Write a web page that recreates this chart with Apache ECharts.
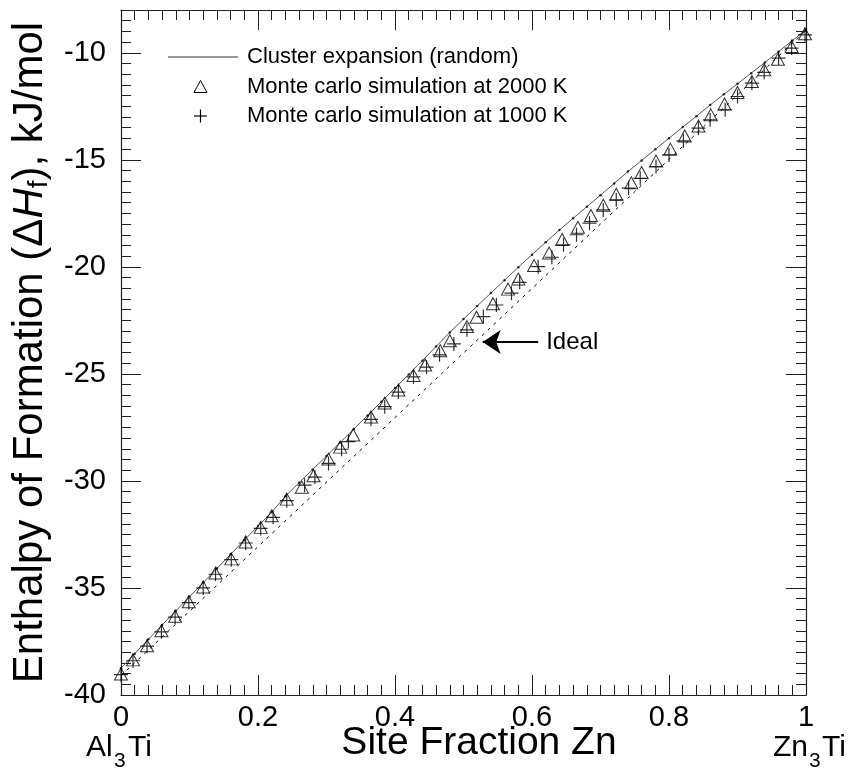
<!DOCTYPE html>
<html>
<head>
<meta charset="utf-8">
<title>Enthalpy of Formation</title>
<script src="https://cdn.jsdelivr.net/npm/echarts@6/dist/echarts.min.js"></script>
<style>
  html, body { margin: 0; padding: 0; background: #fff; }
  #chart { width: 855px; height: 773px; }
</style>
</head>
<body>
<div id="chart"></div>
<script>
// 数据：值
const ceX = [0, 0.02, 0.04, 0.06, 0.08, 0.10, 0.12, 0.14, 0.16, 0.18,
             0.20, 0.22, 0.24, 0.26, 0.28, 0.30, 0.32, 0.34, 0.36, 0.38,
             0.40, 0.42, 0.44, 0.46, 0.48, 0.50, 0.52, 0.54, 0.56, 0.58,
             0.60, 0.62, 0.64, 0.66, 0.68, 0.70, 0.72, 0.74, 0.76, 0.78,
             0.80, 0.82, 0.84, 0.86, 0.88, 0.90, 0.92, 0.94, 0.96, 0.98, 1.00];
const ceY = [-38.75, -38.07, -37.40, -36.73, -36.07, -35.41, -34.75, -34.09, -33.43, -32.77,
             -32.11, -31.46, -30.72, -30.08, -29.46, -28.84, -28.20, -27.57, -26.94, -26.30,
             -25.66, -25.03, -24.38, -23.72, -23.06, -22.44, -21.83, -21.22, -20.62, -20.02,
             -19.43, -18.85, -18.28, -17.73, -17.19, -16.65, -16.10, -15.55, -15.03, -14.51,
             -13.99, -13.47, -12.96, -12.44, -11.94, -11.45, -10.95, -10.45, -9.94, -9.43, -8.92];

// Monte carlo 2000 K (三角形)
const mc2000X = [0, 0.0175, 0.038, 0.059, 0.079, 0.099, 0.12, 0.138, 0.161, 0.182, 0.204, 0.22, 0.242,
                 0.264, 0.281, 0.303, 0.320, 0.339, 0.365, 0.385, 0.405, 0.427, 0.444, 0.466, 0.480,
                 0.505, 0.519, 0.543, 0.565, 0.580, 0.603, 0.625, 0.644, 0.667, 0.686, 0.704, 0.723, 0.745,
                 0.760, 0.781, 0.802, 0.823, 0.843, 0.861, 0.881, 0.900, 0.921, 0.939, 0.959, 0.979, 0.9985];
const mc2000Y = [-39.02, -38.36, -37.70, -37.00, -36.32, -35.64, -34.95, -34.30, -33.64, -32.85, -32.17, -31.63, -30.85,
                 -30.29, -29.76, -28.98, -28.42, -27.85, -27.01, -26.36, -25.75, -25.07, -24.58, -23.92, -23.45,
                 -22.79, -22.35, -21.72, -21.04, -20.57, -19.94, -19.35, -18.72, -18.15, -17.60, -17.12, -16.61, -16.07,
                 -15.59, -15.06, -14.50, -13.89, -13.42, -12.90, -12.39, -11.85, -11.34, -10.79, -10.30, -9.71, -9.11];

// Monte carlo 1000 K (十字)
const mc1000X = [0, 0.0175, 0.038, 0.059, 0.079, 0.099, 0.12, 0.138, 0.161, 0.182, 0.204, 0.222, 0.242,
                 0.268, 0.283, 0.303, 0.322, 0.332, 0.365, 0.385, 0.405, 0.427, 0.446, 0.465, 0.486,
                 0.505, 0.529, 0.548, 0.570, 0.582, 0.609, 0.629, 0.646, 0.665, 0.684, 0.704, 0.723, 0.741,
                 0.758, 0.781, 0.800, 0.821, 0.843, 0.860, 0.882, 0.900, 0.921, 0.939, 0.960, 0.979, 0.9985];
const mc1000Y = [-39.05, -38.40, -37.72, -37.05, -36.36, -35.68, -35.00, -34.36, -33.68, -32.90, -32.22, -31.70, -30.92,
                 -30.20, -29.82, -29.18, -28.52, -28.16, -27.12, -26.53, -25.85, -25.14, -24.68, -24.11, -23.60,
                 -22.94, -22.32, -21.78, -21.23, -20.72, -19.99, -19.55, -18.97, -18.50, -17.96, -17.34, -16.87, -16.32,
                 -15.86, -15.31, -14.77, -14.11, -13.52, -13.13, -12.66, -12.04, -11.42, -10.91, -10.25, -9.78, -9.16];

// 理想混合直线
const idealX = [0, 1];
const idealY = [-39.1, -8.95];

const xTicks = [0, 0.2, 0.4, 0.6, 0.8, 1];
const yTicks = [-40, -35, -30, -25, -20, -15, -10];

const legendNames = ['Cluster expansion (random)', 'Monte carlo simulation at 2000 K', 'Monte carlo simulation at 1000 K'];

const zip = (xs, ys) => xs.map((x, i) => [x, ys[i]]);

const FONT = 'Liberation Sans, Arial, Helvetica, sans-serif';
const INK = '#222';

const chartDom = document.getElementById('chart');
const myChart = echarts.init(chartDom, null, { renderer: 'canvas' });

const majorTick = { show: true, inside: true, length: 20, lineStyle: { color: INK, width: 1 } };
const minorTick = { show: true, inside: true, length: 10, lineStyle: { color: INK, width: 1 } };
const line = { show: true, lineStyle: { color: INK, width: 1.2 } };

// 图例：手工画（线、三角、十字 + 文字）
const legendRows = [57, 86.5, 116];
const legendText = (name, y) => ({
  type: 'text', x: 247, y: y,
  style: { text: name, font: '22px ' + FONT, fill: '#000', verticalAlign: 'middle', align: 'left' }
});
const legendGraphic = [
  { type: 'line', shape: { x1: 168, y1: legendRows[0], x2: 238, y2: legendRows[0] }, style: { stroke: '#333', lineWidth: 1 } },
  { type: 'polygon', shape: { points: [[200.5, legendRows[1] - 6], [194, legendRows[1] + 6], [207, legendRows[1] + 6]] },
    style: { fill: 'none', stroke: '#000', lineWidth: 1 } },
  { type: 'line', shape: { x1: 194, y1: legendRows[2], x2: 207, y2: legendRows[2] }, style: { stroke: '#000', lineWidth: 1.2 } },
  { type: 'line', shape: { x1: 200.5, y1: legendRows[2] - 6.5, x2: 200.5, y2: legendRows[2] + 6.5 }, style: { stroke: '#000', lineWidth: 1.2 } },
  legendText(legendNames[0], legendRows[0]),
  legendText(legendNames[1], legendRows[1]),
  legendText(legendNames[2], legendRows[2])
];

// 坐标轴下方的文字
const bottomText = [
  { type: 'text', x: 479, y: 743,
    style: { text: 'Site Fraction Zn', font: '39px ' + FONT, fill: '#000', align: 'center', verticalAlign: 'middle' } },
  { type: 'text', left: 86, top: 733, style: { text: 'Al', font: '30px ' + FONT, fill: '#000' } },
  { type: 'text', left: 114, top: 751, style: { text: '3', font: '21px ' + FONT, fill: '#000' } },
  { type: 'text', left: 128, top: 733, style: { text: 'Ti', font: '30px ' + FONT, fill: '#000' } },
  { type: 'text', left: 773, top: 733, style: { text: 'Zn', font: '30px ' + FONT, fill: '#000' } },
  { type: 'text', left: 809, top: 751, style: { text: '3', font: '21px ' + FONT, fill: '#000' } },
  { type: 'text', left: 822, top: 733, style: { text: 'Ti', font: '30px ' + FONT, fill: '#000' } }
];

const option = {
  animation: false,
  textStyle: { fontFamily: FONT },
  grid: { left: 121, right: 49, top: 10, bottom: 78, outerBoundsMode: 'none', containLabel: false },
  xAxis: [
    {
      type: 'value', min: 0, max: 1, interval: 0.2, position: 'bottom',
      axisLine: line, axisTick: majorTick,
      minorTick: { show: true, splitNumber: 10, length: 10, lineStyle: { color: INK } },
      splitLine: { show: false },
      axisLabel: {
        fontSize: 29, color: '#000', margin: 8, fontFamily: FONT,
        formatter: v => xTicks.includes(v) ? String(v) : ''
      }
    },
    {
      type: 'value', min: 0, max: 1, interval: 0.2, position: 'top',
      axisLine: line, axisTick: majorTick,
      minorTick: { show: true, splitNumber: 10, length: 10, lineStyle: { color: INK } },
      splitLine: { show: false }, axisLabel: { show: false }
    }
  ],
  yAxis: [
    {
      type: 'value', min: -40, max: -8, interval: 5, position: 'left',
      axisLine: line, axisTick: majorTick, splitLine: { show: false },
      axisLabel: {
        fontSize: 29, color: '#000', margin: 15, fontFamily: FONT, showMaxLabel: false,
        formatter: v => yTicks.includes(v) ? String(v) : ''
      },
      name: 'Enthalpy of Formation (Δ{i|H}{sub|f}), kJ/mol',
      nameLocation: 'middle',
      nameGap: 68,
      nameTextStyle: {
        fontSize: 42, color: '#000', fontFamily: FONT, lineHeight: 44,
        rich: {
          i: { fontSize: 42, fontStyle: 'italic', fontFamily: FONT, lineHeight: 44 },
          sub: { fontSize: 28, fontFamily: FONT, lineHeight: 28, padding: [18, 0, 0, 0] }
        }
      }
    },
    {
      type: 'value', min: -40, max: -8, interval: 0.5, position: 'left',
      axisLine: { show: false }, axisTick: minorTick, splitLine: { show: false },
      axisLabel: { show: false }
    },
    {
      type: 'value', min: -40, max: -8, interval: 5, position: 'right',
      axisLine: line, axisTick: majorTick, splitLine: { show: false },
      axisLabel: { show: false }
    },
    {
      type: 'value', min: -40, max: -8, interval: 0.5, position: 'right',
      axisLine: { show: false }, axisTick: minorTick, splitLine: { show: false },
      axisLabel: { show: false }
    }
  ],
  series: [
    {
      name: 'Ideal',
      type: 'line',
      data: zip(idealX, idealY),
      symbol: 'none',
      lineStyle: { color: '#000', width: 1, type: [3, 5] },
      z: 1,
      markLine: {
        silent: true,
        symbol: ['none', 'arrow'],
        symbolSize: 18,
        lineStyle: { color: '#000', width: 2, type: 'solid' },
        label: { show: true, position: 'start', formatter: 'Ideal', fontSize: 24, color: '#000', distance: 8, fontFamily: FONT },
        data: [[{ coord: [0.609, -23.51] }, { coord: [0.528, -23.51] }]]
      }
    },
    {
      name: legendNames[0],
      type: 'line',
      data: zip(ceX, ceY),
      symbol: 'none',
      lineStyle: { color: '#555', width: 1 },
      z: 2
    },
    {
      // 曲线上的小点
      name: 'ce-dots',
      type: 'scatter',
      data: zip(ceX, ceY),
      symbol: 'circle',
      symbolSize: 2.5,
      itemStyle: { color: '#000' },
      z: 3
    },
    {
      name: legendNames[1],
      type: 'scatter',
      data: zip(mc2000X, mc2000Y),
      symbol: 'triangle',
      symbolSize: [13, 12],
      itemStyle: { color: 'rgba(0,0,0,0)', borderColor: '#000', borderWidth: 1 },
      z: 4
    },
    {
      name: legendNames[2],
      type: 'scatter',
      data: zip(mc1000X, mc1000Y),
      symbol: 'path://M0,6H12M6,0V12',
      symbolSize: 14,
      itemStyle: { color: 'rgba(0,0,0,0)', borderColor: '#000', borderWidth: 1.2 },
      z: 5
    }
  ],
  graphic: legendGraphic.concat(bottomText)
};

option && myChart.setOption(option);
</script>
</body>
</html>
